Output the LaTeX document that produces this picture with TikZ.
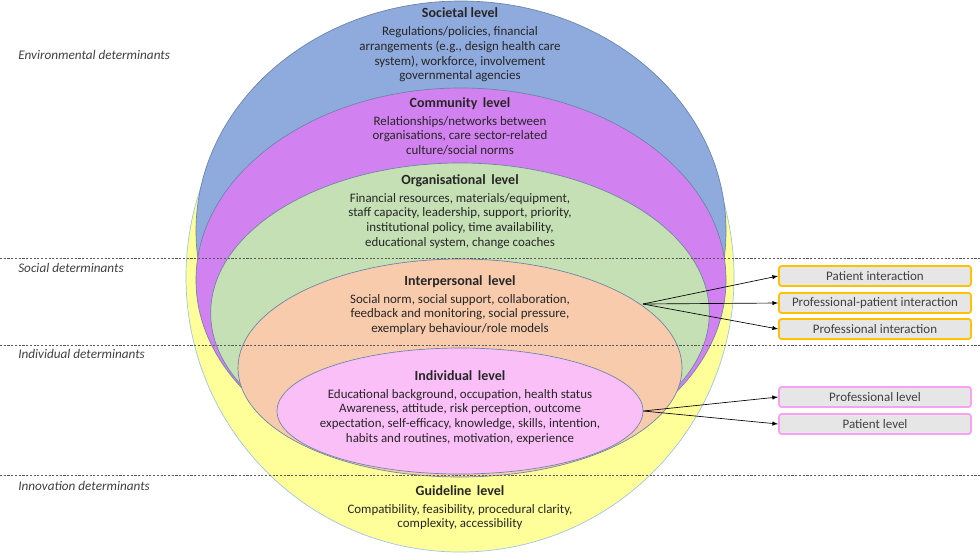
\documentclass[tikz,border=0pt]{standalone}
\usepackage{fontspec}
\setmainfont{Carlito}
\usepackage{xcolor}
\usepackage{tikz}
\usetikzlibrary{positioning,shapes,arrows,calc,backgrounds}

\definecolor{guideyellow}{HTML}{FFFF99}
\definecolor{guideedge}{HTML}{9DC3E6}
\definecolor{socblue}{HTML}{8FAADC}
\definecolor{commpurple}{HTML}{D282F0}
\definecolor{orggreen}{HTML}{C5E0B4}
\definecolor{interorange}{HTML}{F8CBAD}
\definecolor{indivpink}{HTML}{FBBFF8}
\definecolor{lvledge}{HTML}{6A84A6}
\definecolor{boxgray}{HTML}{E7E6E6}
\definecolor{boxgold}{HTML}{FFC000}
\definecolor{boxpink}{HTML}{F7A1F2}
\definecolor{txtdark}{HTML}{262626}
\definecolor{txtgray}{HTML}{404040}

\newcommand{\lvltitle}[1]{{\fontsize{10.5}{11}\selectfont\bfseries #1}}

\begin{document}
\begin{tikzpicture}[x=0.75pt,y=-0.75pt,
    lvl/.style={ellipse, draw=lvledge, line width=0.5pt, inner sep=0pt},
    lvltxt/.style={anchor=north, align=center, inner sep=0pt, text=txtdark, font=\fontsize{9.7}{11}\selectfont},
    detlbl/.style={anchor=west, inner sep=0pt, text=txtgray, font=\fontsize{9.9}{11}\selectfont\itshape},
    sidebox/.style={rounded corners=2pt, fill=boxgray, line width=1.4pt, minimum width=144pt, minimum height=15pt, inner sep=0pt, text=txtgray, font=\fontsize{9.75}{11}\selectfont},
    sep/.style={dashed, dash pattern=on 1.6pt off 1.2pt, line width=0.5pt, draw=black!65}]
    \useasboundingbox (0,0) rectangle (980,554);

    \node[lvl, fill=guideyellow, draw=guideedge, minimum width=411pt, minimum height=412.5pt] (guide) at (460,277) {};
    \node[lvl, fill=socblue, minimum width=397.5pt, minimum height=345pt] (soc) at (461,231) {};
    \node[lvl, fill=commpurple, minimum width=397.5pt, minimum height=288pt] (comm) at (461,280) {};
    \node[lvl, fill=orggreen, minimum width=374pt, minimum height=225pt] (org) at (460,313) {};
    \node[lvl, fill=interorange, minimum width=333pt, minimum height=163.5pt] (inter) at (460,368) {};
    \node[lvl, fill=indivpink, minimum width=274.5pt, minimum height=94.5pt] (indiv) at (460,411) {};

    \draw[sep] (0,258) -- (980,258);
    \draw[sep] (0,345) -- (980,345);
    \draw[sep] (0,475) -- (980,475);

    \node[lvltxt] (soc-txt) at (460,7) {\lvltitle{Societal level}\\[3pt]
        Regulations/policies, financial\\
        arrangements (e.g., design health care\\
        system), workforce, involvement\\
        governmental agencies};
    \node[lvltxt] (comm-txt) at (460,97) {\lvltitle{Community\, level}\\[2.5pt]
        Relationships/networks between\\
        organisations, care sector-related\\
        culture/social norms};
    \node[lvltxt] (org-txt) at (460,174) {\lvltitle{Organisational\, level}\\[2.5pt]
        Financial resources, materials/equipment,\\
        staff capacity, leadership, support, priority,\\
        institutional policy, time availability,\\
        educational system, change coaches};
    \node[lvltxt] (inter-txt) at (460,275) {\lvltitle{Interpersonal\, level}\\[2.5pt]
        Social norm, social support, collaboration,\\
        feedback and monitoring, social pressure,\\
        exemplary behaviour/role models};
    \node[lvltxt] (indiv-txt) at (460,370) {\lvltitle{Individual\, level}\\[2.5pt]
        Educational background, occupation, health status\\
        Awareness, attitude, risk perception, outcome\\
        expectation, self-efficacy, knowledge, skills, intention,\\
        habits and routines, motivation, experience};
    \node[lvltxt] (guide-txt) at (460,485) {\lvltitle{Guideline\, level}\\[2.5pt]
        Compatibility, feasibility, procedural clarity,\\
        complexity, accessibility};

    \node[detlbl] (env-lbl) at (18,55) {Environmental determinants};
    \node[detlbl] (social-lbl) at (18,268) {Social determinants};
    \node[detlbl] (indiv-lbl) at (18,354) {Individual determinants};
    \node[detlbl] (innov-lbl) at (18,486) {Innovation determinants};

    \node[sidebox, draw=boxgold] (patint) at (875,276) {Patient interaction};
    \node[sidebox, draw=boxgold] (profpat) at (875,303) {Professional-patient interaction};
    \node[sidebox, draw=boxgold] (profint) at (875,329) {Professional interaction};
    \node[sidebox, draw=boxpink] (proflvl) at (875,397) {Professional level};
    \node[sidebox, draw=boxpink] (patlvl) at (875,424) {Patient level};

    \coordinate (inter-out) at (643,304);
    \draw[->, >=latex, line width=0.5pt] (inter-out) -- (patint.west);
    \draw[->, >=latex, line width=0.5pt] (inter-out) -- (profpat.west);
    \draw[->, >=latex, line width=0.5pt] (inter-out) -- (profint.west);
    \draw[->, >=latex, line width=0.5pt] (indiv.east) -- (proflvl.west);
    \draw[->, >=latex, line width=0.5pt] (indiv.east) -- (patlvl.west);
\end{tikzpicture}
\end{document}
